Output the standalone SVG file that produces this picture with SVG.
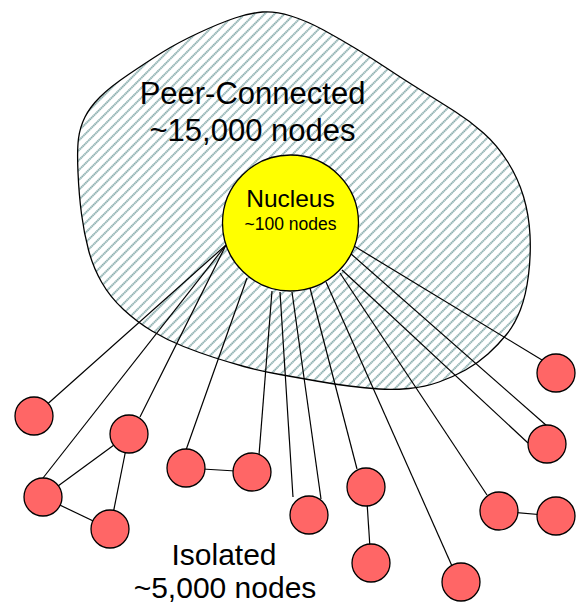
<svg xmlns="http://www.w3.org/2000/svg" width="578" height="605" viewBox="0 0 578 605">
<style>
.lbl{font-family:"Liberation Sans",Arial,sans-serif;fill:#000;text-anchor:middle}
.node{fill:#ff6666;stroke:#000;stroke-width:1.3}
.edge{stroke:#000;stroke-width:1.2;fill:none}
</style>
<defs>
<pattern id="hatch" width="7" height="10" patternUnits="userSpaceOnUse" patternTransform="rotate(45)">
<rect width="7" height="10" fill="#ffffff"/>
<line x1="1" y1="0" x2="1" y2="10" stroke="#457d7d" stroke-width="1.25" stroke-dasharray="1.4 0.6"/>
</pattern>
</defs>
<rect width="578" height="605" fill="#ffffff"/>
<g id="peer-connected">
<path d="M 78.5,138.5 Q 80,127 85,117 Q 90,107 100,97 Q 110,87 128.5,74.5 Q 147,62 162,52.5 Q 177,43 198.5,33 Q 220,23 235,18 Q 250,13 262.5,12 Q 275,11 291,16 Q 307,21 323.5,30 Q 340,39 356.5,49 Q 373,59 388,69 Q 403,79 421.5,90.5 Q 440,102 455,111.5 Q 470,121 483.5,133 Q 497,145 507.5,161.5 Q 518,178 523.5,196.5 Q 529,215 530,235 Q 531,255 528.5,275 Q 526,295 520.5,309.5 Q 515,324 506.5,334.5 Q 498,345 488,354 Q 478,363 465.5,370 Q 453,377 439,382 Q 425,387 409,388.5 Q 393,390 379,389 Q 365,388 349,386 Q 333,384 316.5,381 Q 300,378 280,374.5 Q 260,371 244,366.5 Q 228,362 214,357.5 Q 200,353 183.5,346.5 Q 167,340 152,331 Q 137,322 123.5,309.5 Q 110,297 101.5,282 Q 93,267 88.5,250 Q 84,233 81.5,214 Q 79,195 78,172.5 Q 77,150 78.5,138.5 Z" fill="url(#hatch)" stroke="#000" stroke-width="1.3"/>
<text class="lbl" x="252.5" y="104" font-size="31">Peer-Connected</text>
<text class="lbl" x="252.5" y="141" font-size="31">~15,000 nodes</text>
</g>
<g id="connectors">
<line class="edge" x1="226" y1="245" x2="34" y2="416"/>
<line class="edge" x1="226" y1="245" x2="43" y2="478"/>
<line class="edge" x1="226" y1="245" x2="140" y2="417"/>
<line class="edge" x1="247" y1="278" x2="186" y2="450"/>
<line class="edge" x1="272" y1="291" x2="259" y2="455"/>
<line class="edge" x1="280" y1="292" x2="293" y2="497"/>
<line class="edge" x1="292" y1="292" x2="321" y2="499"/>
<line class="edge" x1="310" y1="288" x2="357" y2="469"/>
<line class="edge" x1="326" y1="282" x2="452" y2="566"/>
<line class="edge" x1="340" y1="273" x2="487" y2="495"/>
<line class="edge" x1="342" y1="270" x2="528" y2="443"/>
<line class="edge" x1="350" y1="253" x2="547" y2="426"/>
<line class="edge" x1="354" y1="246" x2="542" y2="360"/>
<line class="edge" x1="43" y1="497" x2="129" y2="434"/>
<line class="edge" x1="43" y1="497" x2="110" y2="529"/>
<line class="edge" x1="129" y1="434" x2="110" y2="529"/>
<line class="edge" x1="186" y1="468" x2="252" y2="472"/>
<line class="edge" x1="366" y1="487" x2="371" y2="563"/>
<line class="edge" x1="499" y1="511" x2="556" y2="516"/>
</g>
<g id="nucleus">
<circle cx="290.5" cy="223" r="68" fill="#ffff00" stroke="#000" stroke-width="1.3"/>
<text class="lbl" x="290.5" y="207" font-size="24.5">Nucleus</text>
<text class="lbl" x="290.5" y="230" font-size="17.5">~100 nodes</text>
</g>
<g id="n1"><circle class="node" cx="34" cy="416" r="19"/></g>
<g id="n2"><circle class="node" cx="129" cy="434" r="19"/></g>
<g id="n3"><circle class="node" cx="43" cy="497" r="19"/></g>
<g id="n4"><circle class="node" cx="110" cy="529" r="19"/></g>
<g id="n5"><circle class="node" cx="186" cy="468" r="19"/></g>
<g id="n6"><circle class="node" cx="252" cy="472" r="19"/></g>
<g id="n7"><circle class="node" cx="309" cy="515" r="19"/></g>
<g id="n8"><circle class="node" cx="366" cy="487" r="19"/></g>
<g id="n9"><circle class="node" cx="371" cy="563" r="19"/></g>
<g id="n10"><circle class="node" cx="461" cy="582" r="19"/></g>
<g id="n11"><circle class="node" cx="499" cy="511" r="19"/></g>
<g id="n12"><circle class="node" cx="556" cy="516" r="19"/></g>
<g id="n13"><circle class="node" cx="547" cy="444" r="19"/></g>
<g id="n14"><circle class="node" cx="556" cy="373" r="19"/></g>
<g id="isolated-label">
<text class="lbl" x="224" y="565" font-size="30">Isolated</text>
<text class="lbl" x="225" y="598" font-size="30">~5,000 nodes</text>
</g>
</svg>
